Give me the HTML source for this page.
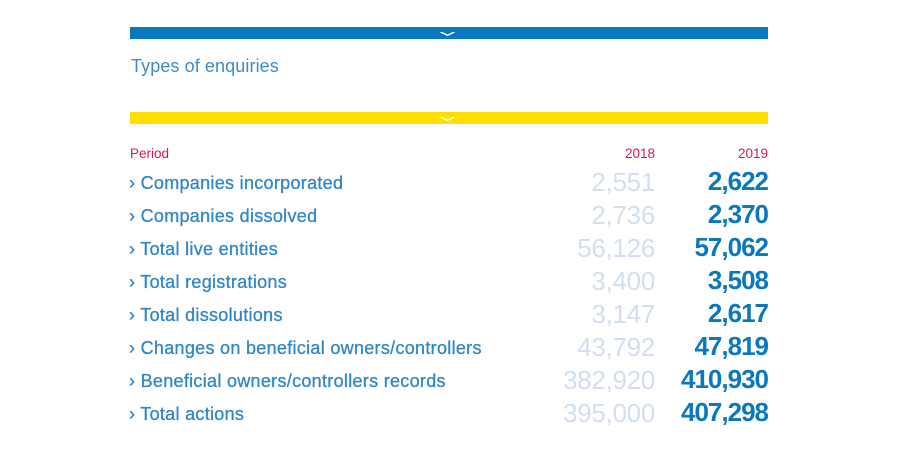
<!DOCTYPE html>
<html><head><style>
body{margin:0;width:901px;height:467px;background:#fff;position:relative;font-family:"Liberation Sans",sans-serif;overflow:hidden}
.bar{position:absolute;left:130px;width:638px;height:12px}
.chev{position:absolute;left:313px;top:1px;width:7px;height:7px;border-right:2px solid #fff;border-bottom:2px solid #fff;transform:scale(1.2,0.55) rotate(45deg)}
.t{position:absolute;white-space:nowrap}
.lab{left:129px;font-size:18px;color:#2f86c8;letter-spacing:0.3px;-webkit-text-stroke:0.3px #2f86c8}
.a{right:246px;font-size:26px;color:#d3dff0;letter-spacing:-0.3px}
.b{right:133px;font-size:26px;color:#0a78bd;font-weight:bold;letter-spacing:-1px}
</style></head><body>
<div class="bar" style="top:27px;background:#0a78bd"><div class="chev"></div></div>
<div class="t" style="left:131px;top:56px;font-size:18px;color:#3d8bcc;letter-spacing:0.1px">Types of enquiries</div>
<div class="bar" style="top:112px;background:#fedf00"><div class="chev"></div></div>
<div class="t" style="left:130px;top:146px;font-size:13.5px;color:#d51a52">Period</div>
<div class="t" style="right:246px;top:146px;font-size:13.5px;color:#d51a52">2018</div>
<div class="t" style="right:133px;top:146px;font-size:13.5px;color:#d51a52">2019</div>

<div class="t lab" style="top:173px">› Companies incorporated</div><div class="t a" style="top:167px">2,551</div><div class="t b" style="top:166px">2,622</div>
<div class="t lab" style="top:206px">› Companies dissolved</div><div class="t a" style="top:200px">2,736</div><div class="t b" style="top:199px">2,370</div>
<div class="t lab" style="top:239px">› Total live entities</div><div class="t a" style="top:233px">56,126</div><div class="t b" style="top:232px">57,062</div>
<div class="t lab" style="top:272px">› Total registrations</div><div class="t a" style="top:266px">3,400</div><div class="t b" style="top:265px">3,508</div>
<div class="t lab" style="top:305px">› Total dissolutions</div><div class="t a" style="top:299px">3,147</div><div class="t b" style="top:298px">2,617</div>
<div class="t lab" style="top:338px">› Changes on beneficial owners/controllers</div><div class="t a" style="top:332px">43,792</div><div class="t b" style="top:331px">47,819</div>
<div class="t lab" style="top:371px">› Beneficial owners/controllers records</div><div class="t a" style="top:365px">382,920</div><div class="t b" style="top:364px">410,930</div>
<div class="t lab" style="top:404px">› Total actions</div><div class="t a" style="top:398px">395,000</div><div class="t b" style="top:397px">407,298</div>
</body></html>
